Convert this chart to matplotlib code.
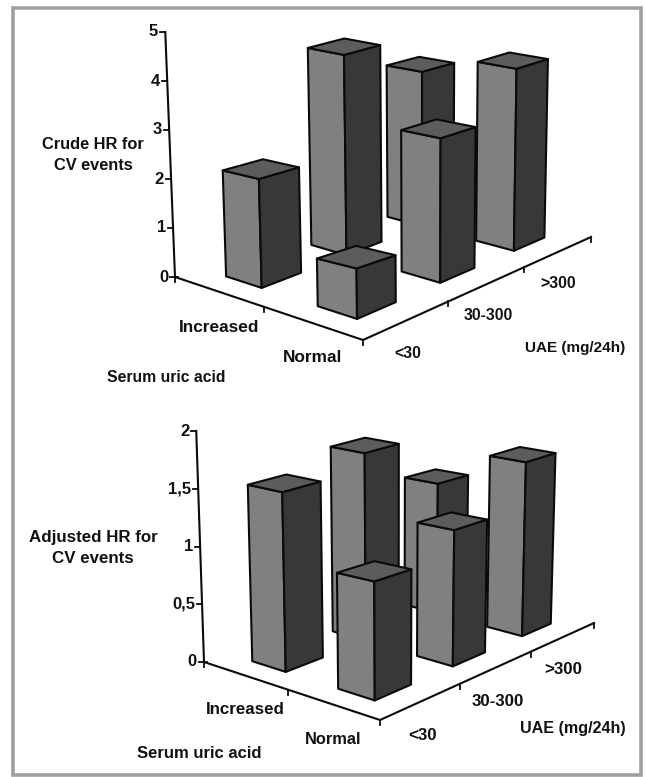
import numpy as np
import matplotlib
matplotlib.use("Agg")
import matplotlib.pyplot as plt
from matplotlib.patches import Polygon, Rectangle

plt.rcParams['font.family'] = ['Liberation Sans', 'DejaVu Sans']

# ---- data ----
uric_acid = ["Increased", "Normal"]
uae = ["<30", "30-300", ">300"]
crude_increased = [2.2, 4.1, 3.2]
crude_normal = [1.0, 2.9, 3.7]
adjusted_increased = [1.54, 1.63, 1.14]
adjusted_normal = [1.0, 1.16, 1.5]
crude_ticks = [0, 1, 2, 3, 4, 5]
crude_ticklabels = ["0", "1", "2", "3", "4", "5"]
adjusted_ticks = [0, 0.5, 1, 1.5, 2]
adjusted_ticklabels = ["0", "0,5", "1", "1,5", "2"]

FRONT, SIDE, TOP, EDGE = "#808080", "#383838", "#5c5c5c", "#0a0a0a"
TXT = "#111111"
TOP_SQUASH = 0.8

fig = plt.figure(figsize=(6.45, 7.77), dpi=100, facecolor="white")
ax = fig.add_axes([0, 0, 1, 1])
ax.set_xlim(0, 645)
ax.set_ylim(777, 0)
ax.axis("off")
ax.add_patch(Rectangle((13, 8), 628, 767, fill=False, ec="#a0a0a0", lw=2.6))


def homography(p00, p10, p11, p01):
    (x0, y0), (x1, y1), (x2, y2), (x3, y3) = p00, p10, p11, p01
    dx1, dx2, sx = x1 - x2, x3 - x2, x0 - x1 + x2 - x3
    dy1, dy2, sy = y1 - y2, y3 - y2, y0 - y1 + y2 - y3
    det = dx1 * dy2 - dx2 * dy1
    g = (sx * dy2 - dx2 * sy) / det
    h = (dx1 * sy - sx * dy1) / det
    a, b, c = x1 - x0 + g * x1, x3 - x0 + h * x3, x0
    d, e, f = y1 - y0 + g * y1, y3 - y0 + h * y3, y0

    def proj(u, v):
        w = g * u + h * v + 1
        return np.array([(a * u + b * v + c) / w, (d * u + e * v + f) / w])
    return proj


def chart(incr, norm, ticks, ticklabels, corners, unit, lean, du, dv):
    ground = homography(*corners)
    k, x0 = lean

    def lift(u, v, val):
        p = ground(u, v)
        h = val * unit * (1 + 0.04 * u - 0.04 * v)
        return np.array([p[0] + (p[0] - x0) * k * h, p[1] - h])

    ymax = max(ticks)
    ax.plot(*zip(lift(0, 0, 0), lift(0, 0, ymax)), color=EDGE, lw=1.5, zorder=1)
    ax.plot(*zip(ground(0, 0), ground(1, 0), ground(1, 1)), color=EDGE, lw=1.5, zorder=1)
    for t, lab in zip(ticks, ticklabels):
        p = lift(0, 0, t)
        x_end = p[0] + (3 if t == 0 else 0)
        ax.plot([p[0] - 5, x_end], [p[1], p[1]], color=EDGE, lw=1.3, zorder=1)
        ax.text(p[0] - 7, p[1], lab, ha="right", va="center", fontsize=12,
                fontweight="bold", color=TXT)
    for i in range(0, 3):
        p = ground(i / 2, 0)
        ax.plot([p[0], p[0]], [p[1], p[1] + 5], color=EDGE, lw=1.3, zorder=1)
    for j in range(1, 4):
        p = ground(1, j / 3)
        ax.plot([p[0], p[0]], [p[1], p[1] + 5], color=EDGE, lw=1.3, zorder=1)

    z = 2
    for i, row in enumerate([incr, norm]):
        for j in reversed(range(3)):
            val = row[j]
            uc, vc = (i + .5) / 2, (j + .5) / 3
            fr = (uc + du, vc - dv)
            le = (uc - du, vc - dv)
            ri = (uc + du, vc + dv)
            ba = (uc - du, vc + dv)
            tf = lift(*fr, val)

            def squash(p):
                return np.array([p[0], tf[1] + (p[1] - tf[1]) * TOP_SQUASH])

            tl, tr, tb = squash(lift(*le, val)), squash(lift(*ri, val)), squash(lift(*ba, val))
            front = [ground(*le), ground(*fr), tf, tl]
            side = [ground(*fr), ground(*ri), tr, tf]
            top = [tl, tf, tr, tb]
            for pts, col in ((front, FRONT), (side, SIDE), (top, TOP)):
                ax.add_patch(Polygon(pts, closed=True, fc=col, ec=EDGE, lw=1.5,
                                     joinstyle="round", zorder=z))
            z += 1


chart(crude_increased, crude_normal, crude_ticks, crude_ticklabels,
      [(175, 277), (363, 340), (591, 237), (413, 192)], 49, (0.00016, 423), 0.1, 0.075)
chart(adjusted_increased, adjusted_normal, adjusted_ticks, adjusted_ticklabels,
      [(204, 662), (380, 720), (594, 623), (429, 581)], 115.5, (0.000176, 395), 0.1, 0.075)


def label(x, y, s, fs=11.5, **kw):
    ax.text(x, y, s, ha="center", va="center", fontsize=fs,
            fontweight="bold", color=TXT, **kw)


label(93, 155, "Crude HR for\nCV events", fs=11.8, linespacing=1.5)
label(219, 327, uric_acid[0], fs=12.4)
label(313, 358, uric_acid[1], fs=12.4)
label(408, 353, uae[0], fs=11.4)
label(488, 315, uae[1], fs=11.4)
label(558, 283, uae[2], fs=11.4)
label(575, 348, "UAE (mg/24h)", fs=11)
label(166, 378, "Serum uric acid", fs=11.3)
label(93, 548, "Adjusted HR for\nCV events", fs=12.2, linespacing=1.5)
label(245, 709, uric_acid[0], fs=12.2)
label(333, 739, uric_acid[1], fs=11.8)
label(423, 735, uae[0], fs=12.2)
label(498, 701, uae[1], fs=12.2)
label(563, 670, uae[2], fs=12.2)
label(573, 729, "UAE (mg/24h)", fs=11.6)
label(199, 753, "Serum uric acid", fs=12)

fig.savefig("out.png", dpi=100)
